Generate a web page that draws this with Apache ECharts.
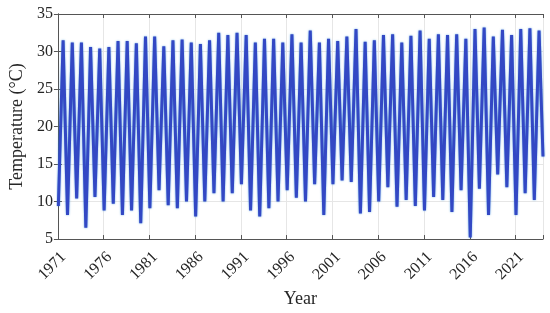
<!DOCTYPE html>
<html>
<head>
<meta charset="utf-8">
<script src="https://cdn.jsdelivr.net/npm/echarts@6.0.0/dist/echarts.min.js"></script>
<style>
  html, body { margin: 0; padding: 0; background: #fff; }
  #chart { width: 550px; height: 313px; }
</style>
</head>
<body>
<div id="chart"></div>
<script>
// first year on the axis, ticks every 5 years
const startYear = 1971;
const spanYears = 53;
const yTicks = [5, 10, 15, 20, 25, 30, 35];

// summer peaks (Jul), 1971..2023
const summerPeak = [
  31.5, 31.2, 31.2, 30.6, 30.4, 30.6, 31.4, 31.4, 31.1, 32.0, 32.0, 30.7, 31.5, 31.6,
  31.2, 31.0, 31.5, 32.5, 32.2, 32.5, 32.2, 31.2, 31.7, 31.7, 31.2, 32.3, 31.2, 32.8, 31.2,
  31.7, 31.4, 32.0, 33.0,
  31.3, 31.5, 32.2, 32.3, 31.2, 32.1, 32.8, 31.7, 32.3, 32.2, 32.3, 31.7, 33.0, 33.2, 32.0,
  32.9, 32.2, 33.0, 33.1, 32.8
];
// winter lows (Jan), 1971..2023
const winterLow = [
  9.4, 8.2, 10.4, 6.5, 10.6, 8.8, 9.7, 8.2, 8.8, 7.1, 9.1, 11.5, 9.5, 9.1,
  10.0, 8.0, 10.0, 11.1, 10.0, 11.1, 12.3, 8.8, 8.0, 9.1, 10.0, 11.5, 10.5, 10.0, 12.3,
  8.2, 12.3, 12.8, 12.6, 8.4,
  8.6, 10.0, 11.9, 9.3, 10.2, 9.4, 8.8, 10.6, 10.2, 8.6, 11.5, 5.2, 11.7, 8.2, 13.6,
  11.9, 8.2, 11.1, 10.2
];
// value at the very end of the record (end of Dec 2023)
const lastValue = 16.0;

// where in the year the low / peak sits
const lowAt = 0.05, peakAt = 0.57;

let series = [];
for (let i = 0; i < summerPeak.length; i++) {
  series.push([i + lowAt, winterLow[i]]);
  series.push([i + peakAt, summerPeak[i]]);
}
series.push([spanYears, lastValue]);

const font = 'Liberation Serif';
const axisColor = '#555';
const textColor = '#262626';

let ec = echarts.init(document.getElementById('chart'), null, {renderer: 'canvas'});

let option = {
  animation: false,
  backgroundColor: '#fff',
  textStyle: {fontFamily: font},
  grid: {left: 45, right: 7, top: 14, bottom: 71},
  xAxis: [
    {
      type: 'value',
      min: 0,
      max: spanYears,
      interval: 5,
      name: 'Year',
      nameLocation: 'middle',
      nameGap: 50,
      nameTextStyle: {fontFamily: font, fontSize: 18, color: textColor},
      axisLine: {show: true, lineStyle: {color: axisColor, width: 1}},
      axisTick: {show: true, inside: true, length: 4, lineStyle: {color: axisColor}},
      axisLabel: {
        rotate: 45,
        margin: 10,
        align: 'right',
        verticalAlign: 'top',
        fontFamily: font,
        fontSize: 16,
        color: textColor,
        formatter: v => (v % 5 === 0 && v < spanYears) ? String(startYear + v) : ''
      },
      splitLine: {show: true, lineStyle: {color: '#e6e6e6', width: 1}}
    },
    {
      type: 'value',
      position: 'top',
      min: 0,
      max: spanYears,
      interval: 5,
      axisLine: {show: true, lineStyle: {color: axisColor, width: 1}},
      axisTick: {show: true, inside: true, length: 4, lineStyle: {color: axisColor}},
      axisLabel: {show: false},
      splitLine: {show: false}
    }
  ],
  yAxis: [
    {
      type: 'value',
      min: yTicks[0],
      max: yTicks[yTicks.length - 1],
      interval: 5,
      name: 'Temperature (°C)',
      nameLocation: 'middle',
      nameGap: 28,
      nameTextStyle: {fontFamily: font, fontSize: 18, color: textColor},
      axisLine: {show: true, lineStyle: {color: axisColor, width: 1}},
      axisTick: {show: true, inside: true, length: 4, lineStyle: {color: axisColor}},
      axisLabel: {margin: 5, fontFamily: font, fontSize: 16, color: textColor},
      splitLine: {show: true, lineStyle: {color: '#e6e6e6', width: 1}}
    },
    {
      type: 'value',
      position: 'right',
      min: yTicks[0],
      max: yTicks[yTicks.length - 1],
      interval: 5,
      axisLine: {show: true, lineStyle: {color: axisColor, width: 1}},
      axisTick: {show: true, inside: true, length: 4, lineStyle: {color: axisColor}},
      axisLabel: {show: false},
      splitLine: {show: false}
    }
  ],
  series: [
    {
      name: 'Temperature',
      type: 'line',
      data: series,
      showSymbol: false,
      symbol: 'none',
      lineStyle: {
        color: '#3348c4',
        width: 3,
        shadowColor: 'rgba(30,130,215,0.7)',
        shadowBlur: 2
      }
    }
  ]
};
ec.setOption(option);
</script>
</body>
</html>
